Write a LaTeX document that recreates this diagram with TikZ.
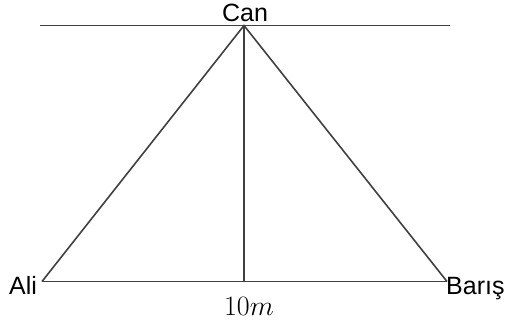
\RequirePackage{fix-cm}
\documentclass[tikz,border=0pt]{standalone}
\usepackage{fontspec}
\setmainfont{Liberation Sans}
\begin{document}
\begin{tikzpicture}[x=1pt,y=-1pt,
  seg/.style={draw=black!75,line width=1.6pt},
  lbl/.style={inner sep=0pt,font=\fontsize{25}{29}\selectfont}]
\useasboundingbox (0,0) rectangle (505,325);
\coordinate (L1) at (40,25.5);
\coordinate (L2) at (450,25.5);
\coordinate (C) at (244,25.5);
\coordinate (A) at (42,281.5);
\coordinate (B) at (447,281.5);
\coordinate (H) at (244,281.5);
\draw[seg] (L1) -- (L2);
\draw[seg] (A) -- (C) -- (B);
\draw[seg] (A) -- (B);
\draw[seg] (C) -- (H);
\node[lbl,anchor=base] (cl) at (245,21.7) {Can};
\node[lbl,anchor=base west] (al) at (9,294) {Ali};
\node[lbl,anchor=base west] (bl) at (446,294) {Barış};
\node[inner sep=0pt,anchor=base,font=\fontsize{28}{33}\selectfont] (d) at (249,315) {$10m$};
\end{tikzpicture}
\end{document}
